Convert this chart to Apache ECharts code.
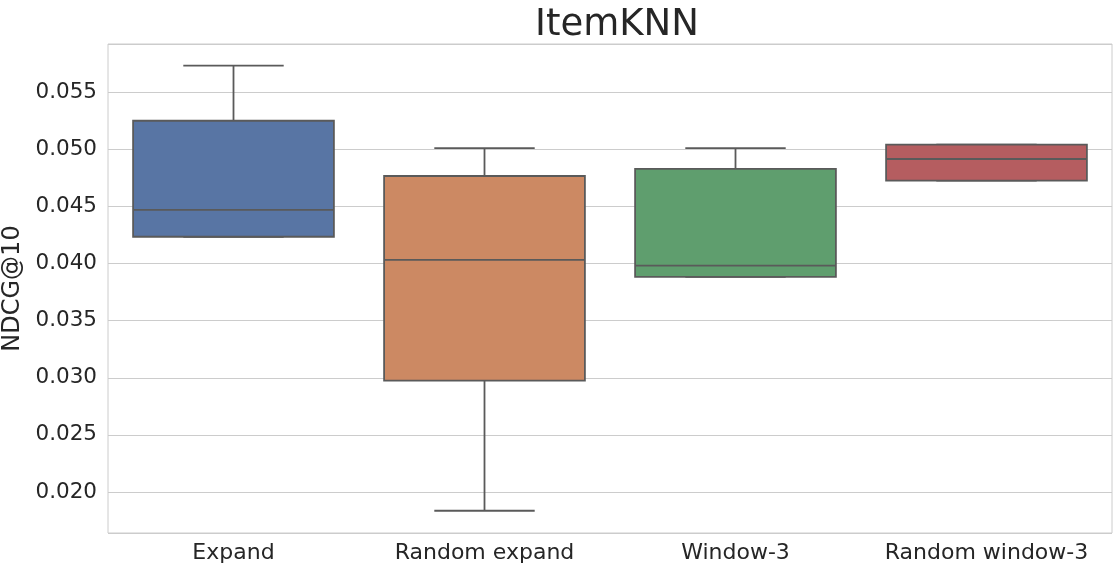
<!DOCTYPE html>
<html>
<head>
<meta charset="utf-8">
<script src="https://cdn.jsdelivr.net/npm/echarts@6/dist/echarts.min.js"></script>
<style>html,body{margin:0;padding:0;background:#fff;}#c{width:1119px;height:570px;}</style>
</head>
<body>
<div id="c"></div>
<script>
const categories = ['Expand', 'Random expand', 'Window-3', 'Random window-3'];
const whiskerLow = [0.04235, 0.01836, 0.03884, 0.04726];
const q1 = [0.04235, 0.02976, 0.03884, 0.04726];
const median = [0.04471, 0.04032, 0.03983, 0.04916];
const q3 = [0.05251, 0.04767, 0.04829, 0.05041];
const whiskerHigh = [0.05733, 0.05012, 0.05012, 0.05041];
const colors = ['#5875a4', '#cc8963', '#5f9e6e', '#b55d60'];

const data = categories.map((c, i) => [i, whiskerLow[i], q1[i], median[i], q3[i], whiskerHigh[i]]);
const lineColor = '#5a5a5a';
const lw = 1.8;

const chart = echarts.init(document.getElementById('c'));
chart.setOption({
  animation: false,
  backgroundColor: '#fff',
  title: {
    text: 'ItemKNN', left: 612, top: 2, textAlign: 'center',
    textStyle: { fontFamily: 'DejaVu Sans', fontSize: 37, fontWeight: 'normal', color: '#262626' }
  },
  grid: { left: 108, right: 7, top: 44, bottom: 37, show: true, borderColor: '#cccccc', borderWidth: 1,
          containLabel: false, outerBoundsMode: 'none' },
  xAxis: {
    type: 'category', data: categories, boundaryGap: true,
    axisLine: { show: false }, axisTick: { show: false }, splitLine: { show: false },
    axisLabel: { interval: 0, hideOverlap: false, fontFamily: 'DejaVu Sans', fontSize: 22, color: '#262626', margin: 9 }
  },
  yAxis: {
    type: 'value', min: 0.01641, max: 0.05923, splitNumber: 8,
    name: 'NDCG@10', nameLocation: 'middle', nameGap: 75, nameRotate: 90,
    nameTextStyle: { fontFamily: 'DejaVu Sans', fontSize: 24, color: '#262626' },
    axisLine: { show: false }, axisTick: { show: false },
    splitLine: { lineStyle: { color: '#cccccc', width: 1 } },
    axisLabel: {
      fontFamily: 'DejaVu Sans', fontSize: 21.5, color: '#262626', margin: 11,
      showMinLabel: false, showMaxLabel: false,
      formatter: v => v.toFixed(3)
    }
  },
  series: [{
    type: 'custom',
    data: data,
    renderItem: function (params, api) {
      const i = api.value(0);
      const band = api.size([1, 0])[0];
      const bw = band * 0.8;
      const cw = bw / 2;
      const pLow = api.coord([i, api.value(1)]);
      const pQ1 = api.coord([i, api.value(2)]);
      const pMed = api.coord([i, api.value(3)]);
      const pQ3 = api.coord([i, api.value(4)]);
      const pHigh = api.coord([i, api.value(5)]);
      const x = pQ1[0];
      const ls = { stroke: lineColor, lineWidth: lw };
      return {
        type: 'group',
        children: [
          { type: 'line', shape: { x1: x, y1: pQ3[1], x2: x, y2: pHigh[1] }, style: ls },
          { type: 'line', shape: { x1: x, y1: pQ1[1], x2: x, y2: pLow[1] }, style: ls },
          { type: 'line', shape: { x1: x - cw / 2, y1: pHigh[1], x2: x + cw / 2, y2: pHigh[1] }, style: ls },
          { type: 'line', shape: { x1: x - cw / 2, y1: pLow[1], x2: x + cw / 2, y2: pLow[1] }, style: ls },
          { type: 'rect', shape: { x: x - bw / 2, y: pQ3[1], width: bw, height: pQ1[1] - pQ3[1] },
            style: { fill: colors[i], stroke: lineColor, lineWidth: lw } },
          { type: 'line', shape: { x1: x - bw / 2, y1: pMed[1], x2: x + bw / 2, y2: pMed[1] }, style: ls }
        ]
      };
    }
  }]
});
</script>
</body>
</html>
